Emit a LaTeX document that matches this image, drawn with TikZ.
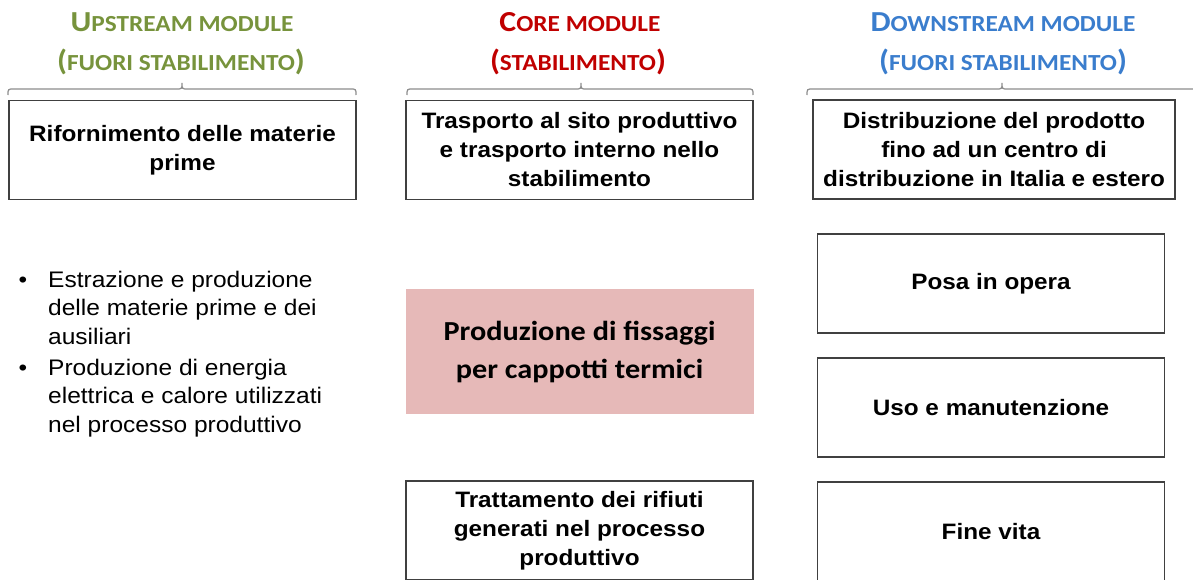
\documentclass[tikz,border=0pt]{standalone}
\usepackage{fontspec}
\setmainfont[FakeStretch=1.09]{Liberation Sans}
\newfontfamily\calib[FakeStretch=1.1]{Carlito}
\definecolor{upgreen}{RGB}{119,147,60}
\definecolor{corered}{RGB}{192,0,0}
\definecolor{downblue}{RGB}{58,125,205}
\definecolor{pinkfill}{RGB}{230,185,184}
\definecolor{boxline}{RGB}{64,64,64}
\definecolor{bracegray}{RGB}{140,140,140}
\newcommand{\bigc}[1]{{\fontsize{29}{34}\selectfont #1}}
\newcommand{\smc}[1]{{\fontsize{23}{34}\selectfont #1}}
\begin{document}
\begin{tikzpicture}[x=1pt,y=-1pt,
  stagebox/.style={draw=boxline, line width=1.3pt, inner sep=0pt, align=center,
    minimum width=347pt, minimum height=99pt,
    font=\bfseries\fontsize{22.3}{29}\selectfont},
  header/.style={anchor=base, inner sep=0pt, font=\calib\bfseries},
  bracestyle/.style={draw=bracegray, line width=1.2pt},
  bullettext/.style={anchor=base west, inner sep=0pt,
    font=\fontsize{22.5}{28.7}\selectfont},
  bulletdot/.style={anchor=base, inner sep=0pt, font=\fontsize{22.5}{28.7}\selectfont}]
\useasboundingbox (0,0) rectangle (1193,579);
\clip (0,0) rectangle (1193,579);

% headers
\node[header, text=upgreen] (h1a) at (182,31) {\bigc{U}\smc{PSTREAM MODULE}};
\node[header, text=upgreen] (h1b) at (181,70) {\bigc{(}\smc{FUORI STABILIMENTO}\bigc{)}};
\node[header, text=corered] (h2a) at (580,31) {\bigc{C}\smc{ORE MODULE}};
\node[header, text=corered] (h2b) at (578,70) {\bigc{(}\smc{STABILIMENTO}\bigc{)}};
\node[header, text=downblue] (h3a) at (1003,31) {\bigc{D}\smc{OWNSTREAM MODULE}};
\node[header, text=downblue] (h3b) at (1003,70) {\bigc{(}\smc{FUORI STABILIMENTO}\bigc{)}};

% braces
\draw[bracestyle] (8,95) .. controls (8,89) .. (14,89) -- (176,89) .. controls (182,89) .. (182,83)
  .. controls (182,89) .. (188,89) -- (350,89) .. controls (356,89) .. (356,95);
\draw[bracestyle] (407,95) .. controls (407,89) .. (413,89) -- (575,89) .. controls (581,89) .. (581,83)
  .. controls (581,89) .. (587,89) -- (747,89) .. controls (753,89) .. (753,95);
\draw[bracestyle] (807,95) .. controls (807,89) .. (813,89) -- (996,89) .. controls (1002,89) .. (1002,83)
  .. controls (1002,89) .. (1008,89) -- (1191,89) .. controls (1197,89) .. (1197,95);

% top boxes
\node[stagebox] (up) at (182.5,150) {Rifornimento delle materie\\prime};
\node[stagebox] (coretop) at (579.5,150) {Trasporto al sito produttivo\\e trasporto interno nello\\stabilimento};
\node[stagebox, minimum width=362pt] (downtop) at (994,149.5) {Distribuzione del prodotto\\fino ad un centro di\\distribuzione in Italia e estero};

% core
\node[draw=none, fill=pinkfill, minimum width=348pt, minimum height=125pt, inner sep=0pt,
  align=center, font=\calib\bfseries\fontsize{27.5}{38}\selectfont] (prod) at (579.5,351.5)
  {Produzione di fissaggi\\per cappotti termici};
\node[stagebox] (waste) at (579.5,530.5) {Trattamento dei rifiuti\\generati nel processo\\produttivo};

% downstream
\node[stagebox] (posa) at (991,283.5) {Posa in opera};
\node[stagebox] (uso) at (991,407.5) {Uso e manutenzione};
\node[stagebox] (fine) at (991,531.5) {Fine vita};

% bullets
\node[bulletdot] (d1) at (23,287) {\textbullet};
\node[bullettext] (t1) at (48,287) {\renewcommand{\arraystretch}{1}\begin{tabular}[t]{@{}l@{}}Estrazione e produzione\\delle materie prime e dei\\ausiliari\end{tabular}};
\node[bulletdot] (d2) at (23,375) {\textbullet};
\node[bullettext] (t2) at (48,375) {\renewcommand{\arraystretch}{1}\begin{tabular}[t]{@{}l@{}}Produzione di energia\\elettrica e calore utilizzati\\nel processo produttivo\end{tabular}};
\end{tikzpicture}
\end{document}
